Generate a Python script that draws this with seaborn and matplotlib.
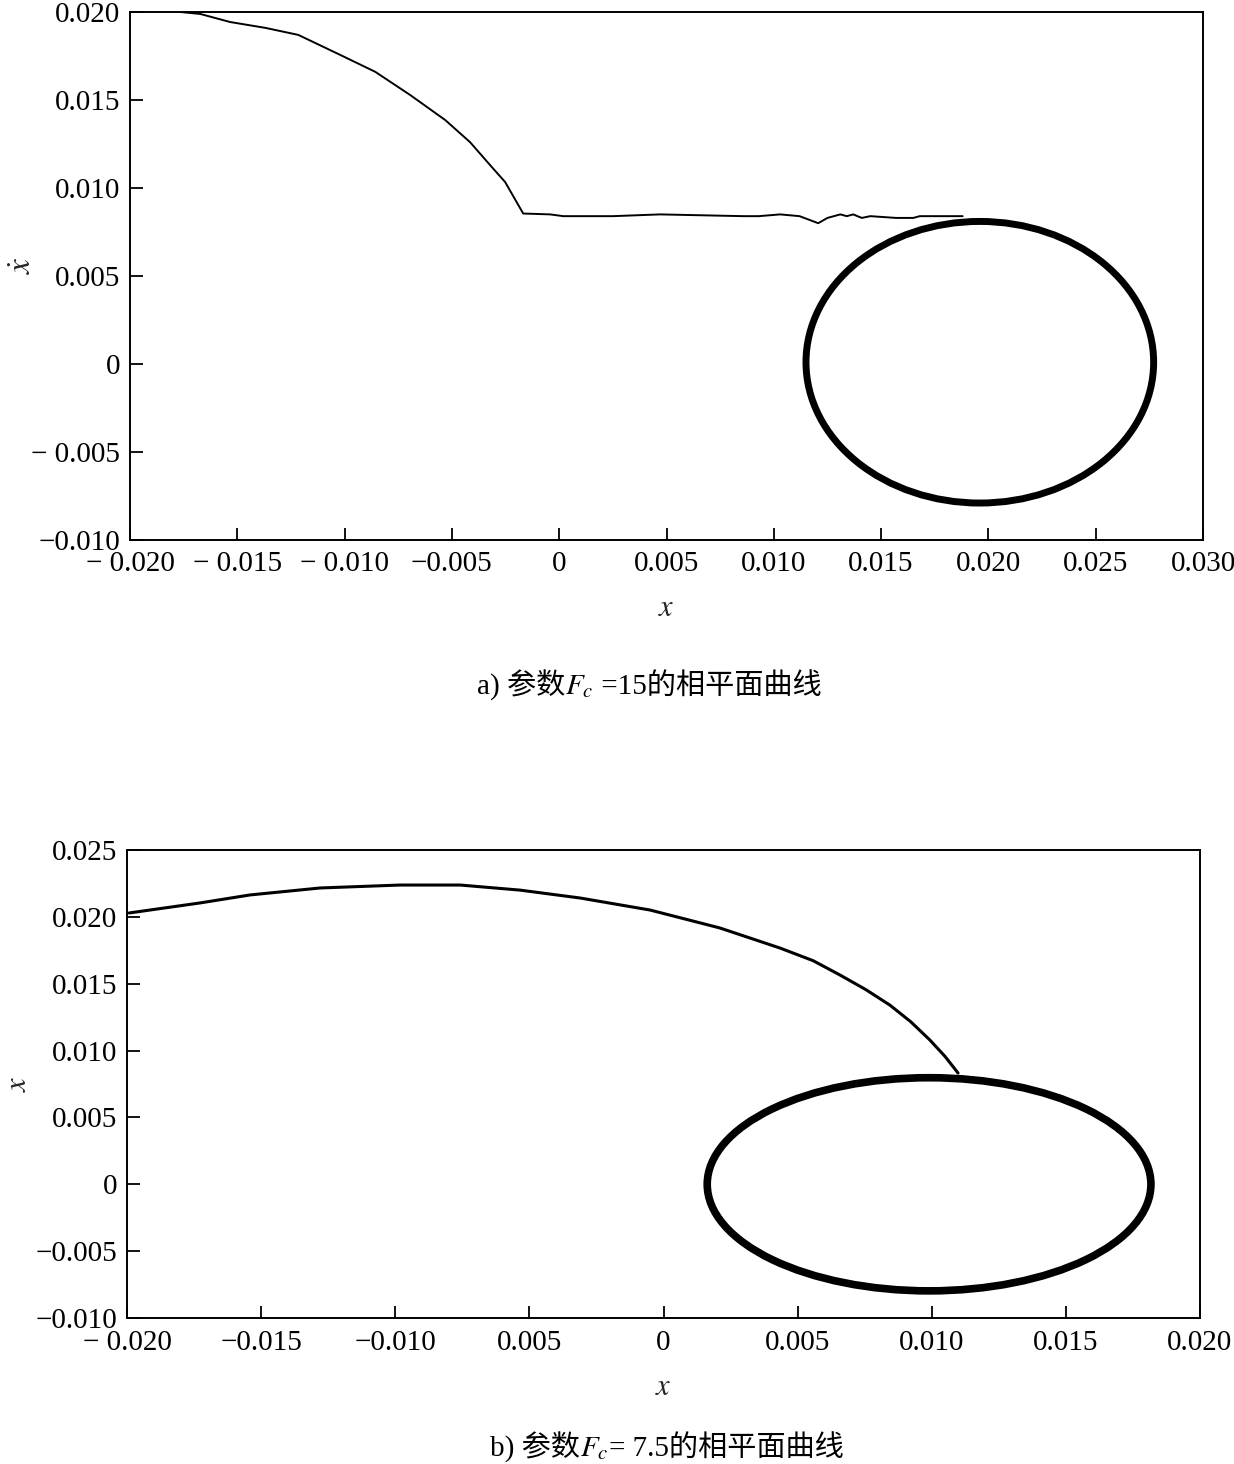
import numpy as np
import pandas as pd
import matplotlib
matplotlib.use("Agg")
import matplotlib.pyplot as plt
from matplotlib.patches import Ellipse
from matplotlib.offsetbox import TextArea, HPacker, AnnotationBbox
import seaborn as sns

# ---------------- data ----------------
# panel a) trajectory (x, xdot)
a_traj_x = [-0.01766, -0.01673, -0.01533, -0.0137, -0.01216, -0.0102, -0.00857,
            -0.00694, -0.00531, -0.00415, -0.00322, -0.00252, -0.00172,
            -0.00168, -0.00042, 0.00019, 0.0025, 0.0047, 0.00857, 0.0093,
            0.0103, 0.0112, 0.01207, 0.0125, 0.0131, 0.0134, 0.0137, 0.0141,
            0.0145, 0.0157, 0.0165, 0.0168, 0.0188]
a_traj_y = [0.0200, 0.01989, 0.01943, 0.0191, 0.0187, 0.01756, 0.0166,
            0.01528, 0.01386, 0.0126, 0.0113, 0.01034, 0.00864,
            0.00855, 0.0085, 0.0084, 0.0084, 0.0085, 0.0084, 0.0084,
            0.0085, 0.0084, 0.0080, 0.0083, 0.0085, 0.0084, 0.0085, 0.0083,
            0.0084, 0.0083, 0.0083, 0.0084, 0.0084]
# panel a) limit cycle: centre and semi-axes
a_cycle_center = [0.0196, 0.0001]
a_cycle_radius = [0.0081, 0.0080]

# panel b) trajectory
b_traj_x = [-0.01992, -0.01728, -0.01541, -0.0128, -0.00982, -0.00758, -0.00535,
            -0.00311, -0.0005, 0.0021, 0.00434, 0.00558, 0.00658, 0.00755,
            0.00844, 0.00922, 0.00993, 0.0105, 0.01098]
b_traj_y = [0.02029, 0.02104, 0.02164, 0.02216, 0.02238, 0.02238, 0.0220,
            0.02141, 0.02051, 0.01917, 0.01767, 0.01672, 0.01565, 0.01455,
            0.0134, 0.01215, 0.01079, 0.00955, 0.00832]
b_cycle_center = [0.0099, 0.0]
b_cycle_radius = [0.00827, 0.00797]

# axis ticks and labels
a_xticks = [-0.020, -0.015, -0.010, -0.005, 0, 0.005, 0.010, 0.015, 0.020, 0.025, 0.030]
a_xticklabels = ["− 0.020", "− 0.015", "− 0.010", "−0.005", "0", "0.005", "0.010",
                 "0.015", "0.020", "0.025", "0.030"]
a_yticks = [-0.010, -0.005, 0, 0.005, 0.010, 0.015, 0.020]
a_yticklabels = ["−0.010", "− 0.005", "0", "0.005", "0.010", "0.015", "0.020"]

b_xticks = [-0.020, -0.015, -0.010, -0.005, 0, 0.005, 0.010, 0.015, 0.020]
b_xticklabels = ["− 0.020", "−0.015", "−0.010", "0.005", "0", "0.005", "0.010",
                 "0.015", "0.020"]
b_yticks = [-0.010, -0.005, 0, 0.005, 0.010, 0.015, 0.020, 0.025]
b_yticklabels = ["−0.010", "−0.005", "0", "0.005", "0.010", "0.015", "0.020", "0.025"]

caption_a = ["a) 参数", "$F_c$", " =15的相平面曲线"]
caption_b = ["b) 参数", "$F_c$", "= 7.5的相平面曲线"]

# ---------------- style ----------------
sns.set_theme(style="ticks")
FAM = ["Liberation Serif", "Noto Sans CJK SC"]
plt.rcParams["font.family"] = FAM
plt.rcParams["mathtext.fontset"] = "stix"
plt.rcParams["axes.unicode_minus"] = True

fig = plt.figure(figsize=(12.34, 14.64), dpi=100)
ax1 = fig.add_axes([130/1234, 1-540/1464, (1203-130)/1234, (540-12)/1464])
ax2 = fig.add_axes([127/1234, 1-1318/1464, (1200-127)/1234, (1318-850)/1464])

dfa = pd.DataFrame({"x": a_traj_x, "y": a_traj_y})
dfb = pd.DataFrame({"x": b_traj_x, "y": b_traj_y})

sns.lineplot(data=dfa, x="x", y="y", ax=ax1, sort=False, estimator=None,
             color="black", linewidth=1.4)
ax1.add_patch(Ellipse(a_cycle_center, 2*a_cycle_radius[0], 2*a_cycle_radius[1],
                      fill=False, edgecolor="black", linewidth=5.0))

sns.lineplot(data=dfb, x="x", y="y", ax=ax2, sort=False, estimator=None,
             color="black", linewidth=2.2)
ax2.add_patch(Ellipse(b_cycle_center, 2*b_cycle_radius[0], 2*b_cycle_radius[1],
                      fill=False, edgecolor="black", linewidth=5.5))

for ax, xt, xtl, yt, ytl, xl, yl, xpad in [
        (ax1, a_xticks, a_xticklabels, a_yticks, a_yticklabels, (-0.020, 0.030), (-0.010, 0.020), 8),
        (ax2, b_xticks, b_xticklabels, b_yticks, b_yticklabels, (-0.020, 0.020), (-0.010, 0.025), 9)]:
    ax.set_xlim(*xl)
    ax.set_ylim(*yl)
    ax.set_xticks(xt)
    ax.set_xticklabels(xtl)
    ax.set_yticks(yt)
    ax.set_yticklabels(ytl)
    ax.tick_params(direction="in", length=9, width=1.3, labelsize=21,
                   colors="black", top=False, right=False)
    ax.tick_params(axis="x", pad=xpad)
    ax.tick_params(axis="y", pad=7)
    for s in ax.spines.values():
        s.set_visible(True)
        s.set_linewidth(1.4)
        s.set_color("black")
    ax.grid(False)

ax1.set_xlabel("$x$", fontsize=22, labelpad=12)
ax2.set_xlabel("$x$", fontsize=22, labelpad=12)

ax1.set_ylabel(r"$\dot{x}$", fontsize=24, rotation=90)
ax1.yaxis.set_label_coords(-0.086, 0.52)
ax2.set_ylabel("$x$", fontsize=22, rotation=90)
ax2.yaxis.set_label_coords(-0.088, 0.5)


def add_caption(parts, xy):
    boxes = []
    for p in parts:
        boxes.append(TextArea(p, textprops=dict(fontsize=21, family=FAM, color="black")))
    pack = HPacker(children=boxes, align="baseline", pad=0, sep=0)
    ab = AnnotationBbox(pack, xy, xycoords="figure fraction", frameon=False,
                        box_alignment=(0.5, 0.5))
    fig.add_artist(ab)


add_caption(caption_a, (649/1234, 1-685/1464))
add_caption(caption_b, (667/1234, 1-1447/1464))

fig.savefig("out.png", dpi=100, facecolor="white")
